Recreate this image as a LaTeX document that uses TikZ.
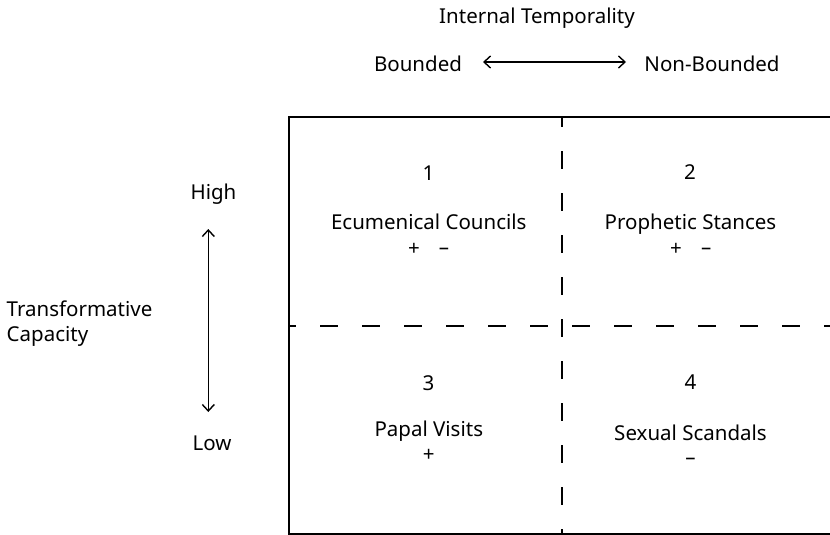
\documentclass[tikz,border=0pt]{standalone}
\usepackage{fontspec}
\setmainfont{Noto Sans}
\usetikzlibrary{arrows.meta}
\begin{document}
\begin{tikzpicture}[x=1pt,y=-1pt,
  lbl/.style={inner sep=0pt,anchor=base,font=\fontsize{20.5}{24}\selectfont},
  frame/.style={line width=1.5pt},
  divider/.style={line width=1.5pt,dash pattern=on 18pt off 24pt},
  dblarrow/.style={line width=1.4pt,{Straight Barb[length=6.5pt,width=12pt]}-{Straight Barb[length=6.5pt,width=12pt]}}]
\useasboundingbox (0,0) rectangle (830,535);
% texts at the top
\node[lbl] (it) at (537,24) {Internal Temporality};
\node[lbl] (bd) at (418,72) {Bounded};
\node[lbl] (nb) at (712,72) {Non-Bounded};
\coordinate (ha) at (483,62);
\coordinate (hb) at (626,62);
\draw[dblarrow] (ha) -- (hb);
% left texts
\node[lbl] (hi) at (213.5,199.5) {High};
\node[lbl] (lo) at (212,450) {Low};
\node[lbl,anchor=base west] (tc1) at (6.5,316.5) {Transformative};
\node[lbl,anchor=base west] (tc2) at (6.5,341.5) {Capacity};
\coordinate (va) at (208.3,229);
\coordinate (vb) at (208.3,412);
\draw[dblarrow] (va) -- (vb);
% frame
\coordinate (tl) at (289,117);
\coordinate (bl) at (289,534);
\coordinate (tr) at (831,117);
\coordinate (br) at (831,534);
\draw[frame] (tr) -- (tl) -- (bl) -- (br);
% dividers
\coordinate (vt) at (562,117);
\coordinate (vbt) at (562,534);
\coordinate (hl) at (289,326);
\coordinate (hr) at (831,326);
\draw[divider,dash phase=8pt] (vt) -- (vbt);
\draw[divider,dash phase=11pt] (hl) -- (hr);
% quadrant 1
\node[lbl] (n1) at (428.5,180) {1};
\node[lbl] (q1) at (428.8,229) {Ecumenical Councils};
\node[lbl] (s1p) at (414,255) {+};
\node[lbl] (s1m) at (444,254) {–};
% quadrant 2
\node[lbl] (n2) at (690,179.5) {2};
\node[lbl] (q2) at (690.5,229) {Prophetic Stances};
\node[lbl] (s2p) at (676,255) {+};
\node[lbl] (s2m) at (706.3,254) {–};
% quadrant 3
\node[lbl] (n3) at (428.5,390) {3};
\node[lbl] (q3) at (428.8,436.7) {Papal Visits};
\node[lbl] (s3p) at (428.8,461) {+};
% quadrant 4
\node[lbl] (n4) at (690.5,389) {4};
\node[lbl] (q4) at (690.5,440) {Sexual Scandals};
\node[lbl] (s4m) at (690.5,464) {–};
\end{tikzpicture}
\end{document}
